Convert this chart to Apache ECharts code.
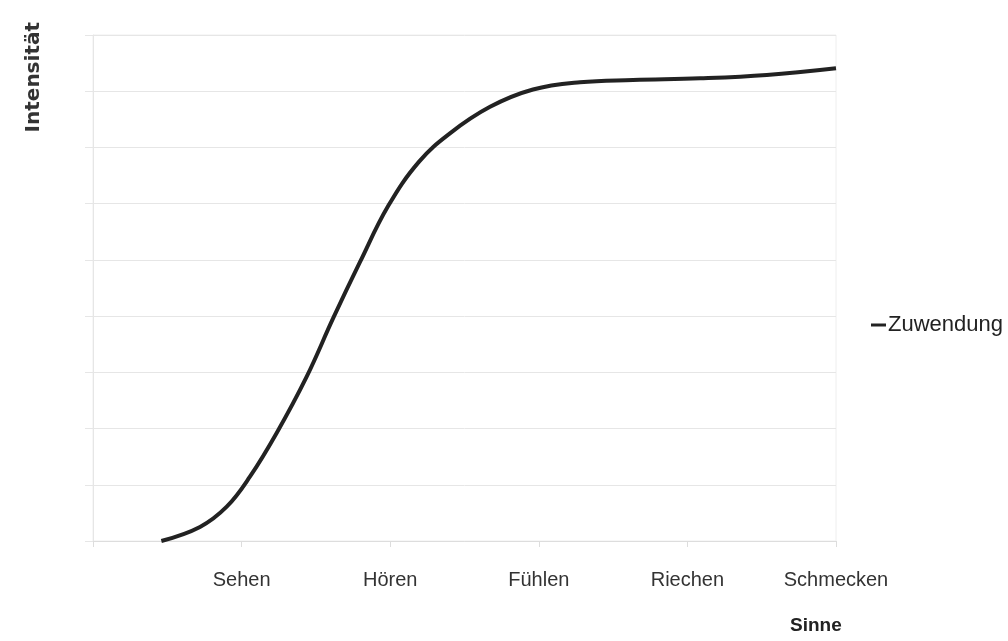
<!DOCTYPE html>
<html style="height: 100%">
<head>
<meta charset="utf-8">
<title>Intensität der Sinne</title>
<script src="https://cdn.jsdelivr.net/npm/echarts@6/dist/echarts.min.js"></script>
</head>
<body style="height: 100%; margin: 0; background: #fff">
<div id="main" style="width: 1008px; height: 641px;"></div>
<script type="text/javascript">
// Kategorien auf der x-Achse (Position 0 bleibt leer)
var sinne = ['', 'Sehen', 'Hören', 'Fühlen', 'Riechen', 'Schmecken'];
// Kurve "Zuwendung": x-Position und Intensität
var zuwendungX = [0.46, 0.72, 0.90, 1.056, 1.236, 1.438, 1.617, 1.797, 1.987, 2.193, 2.402, 2.672, 2.961, 3.277, 3.634, 4.085, 4.534, 5.0];
var zuwendungY = [0, 0.25, 0.61, 1.144, 1.922, 2.924, 3.968, 4.964, 5.961, 6.744, 7.251, 7.722, 8.03, 8.16, 8.20, 8.23, 8.29, 8.41];

var daten = [];
for (var i = 0; i < zuwendungX.length; i++) {
    daten.push([zuwendungX[i], zuwendungY[i]]);
}

var myChart = echarts.init(document.getElementById('main'));
var option = {
    animation: false,
    grid: {
        left: 93, right: 172, top: 35, bottom: 100,
        show: true, borderColor: '#eeeeee', borderWidth: 1
    },
    legend: {
        data: ['Zuwendung'],
        orient: 'vertical',
        left: 866, top: 309,
        icon: 'rect', itemWidth: 15, itemHeight: 3, itemGap: 4,
        textStyle: { fontFamily: 'Liberation Sans, sans-serif', fontSize: 22, color: '#222', padding: [0, 0, 0, -3] }
    },
    xAxis: {
        type: 'value', min: 0, max: 5, interval: 1,
        axisLine: { lineStyle: { color: '#dddddd' } },
        axisTick: { show: true, length: 6, lineStyle: { color: '#dddddd' } },
        splitLine: { show: false },
        axisLabel: {
            margin: 29, fontSize: 20, color: '#333',
            fontFamily: 'Liberation Sans, sans-serif',
            formatter: function (v) { return sinne[Math.round(v)] || ''; }
        }
    },
    yAxis: {
        type: 'value', min: 0, max: 9, interval: 1,
        axisLine: { show: true, lineStyle: { color: '#e6e6e6' } },
        axisTick: { show: true, length: 8, lineStyle: { color: '#e6e6e6' } },
        axisLabel: { show: false },
        splitLine: { lineStyle: { color: '#e6e6e6' } }
    },
    graphic: [
        {
            type: 'text', left: 24, top: 22, rotation: Math.PI / 2,
            style: { text: 'Intensität', fontSize: 20, fontWeight: 'bold', fill: '#333', fontFamily: 'DejaVu Sans, sans-serif' }
        },
        {
            type: 'text', left: 790, top: 616,
            style: { text: 'Sinne', fontSize: 19, fontWeight: 'bold', fill: '#222', fontFamily: 'Liberation Sans, sans-serif' }
        }
    ],
    series: [
        {
            name: 'Zuwendung',
            type: 'line',
            smooth: 0.4,
            showSymbol: false,
            data: daten,
            itemStyle: { color: '#222' },
            lineStyle: { color: '#222', width: 4 }
        }
    ]
};
myChart.setOption(option, true);
</script>
</body>
</html>
